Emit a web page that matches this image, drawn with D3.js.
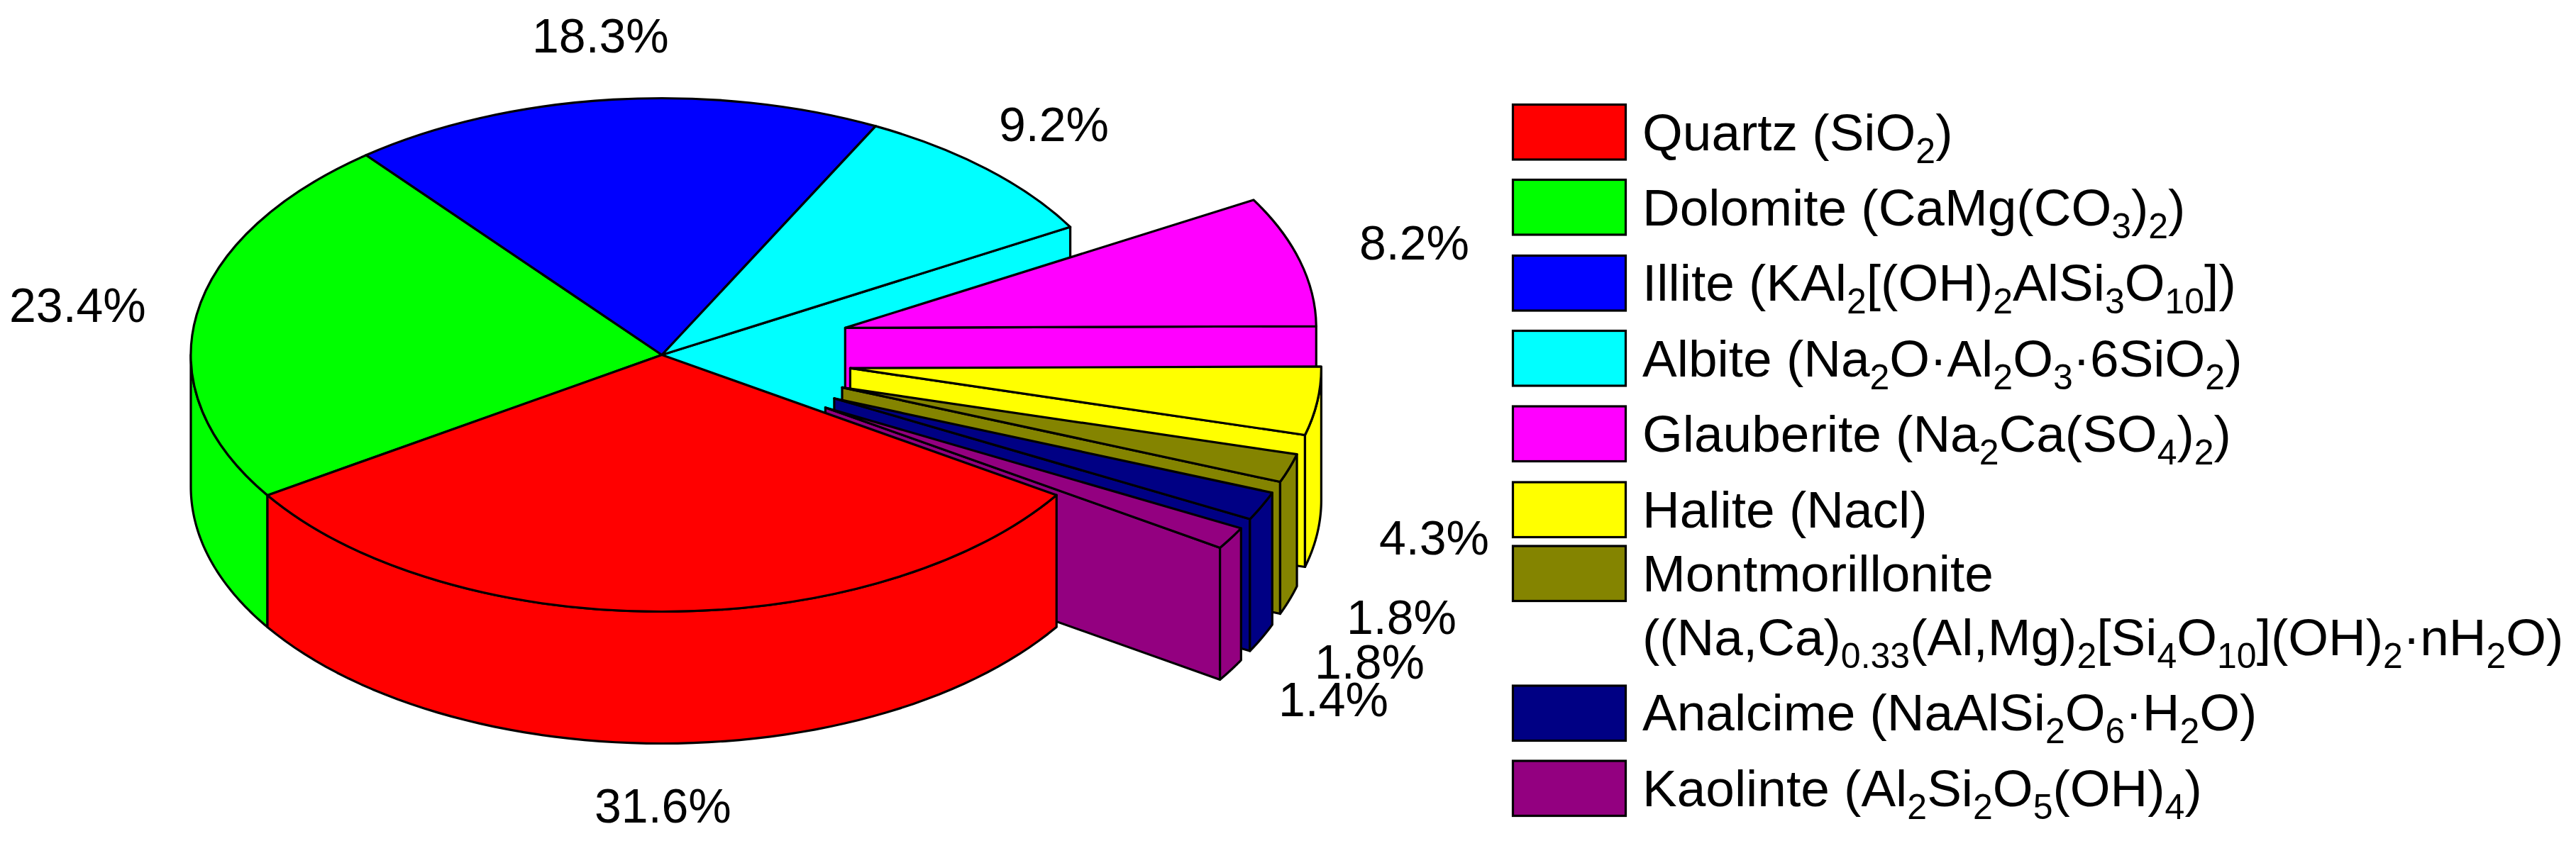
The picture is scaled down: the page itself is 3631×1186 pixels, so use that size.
<!DOCTYPE html>
<html>
<head>
<meta charset="utf-8">
<script src="https://cdn.jsdelivr.net/npm/d3@7"></script>
<style>
  body { margin: 0; background: #fff; }
  text { font-family: "Liberation Sans", Arial, sans-serif; fill: #000; }
</style>
</head>
<body>
<svg id="chart"></svg>
<script>
const minerals = [
  ["Quartz (SiO_2_)"],
  ["Dolomite (CaMg(CO_3_)_2_)"],
  ["Illite (KAl_2_[(OH)_2_AlSi_3_O_10_])"],
  ["Albite (Na_2_O·Al_2_O_3_·6SiO_2_)"],
  ["Glauberite (Na_2_Ca(SO_4_)_2_)"],
  ["Halite (Nacl)"],
  ["Montmorillonite", "((Na,Ca)_0.33_(Al,Mg)_2_[Si_4_O_10_](OH)_2_·nH_2_O)"],
  ["Analcime (NaAlSi_2_O_6_·H_2_O)"],
  ["Kaolinte (Al_2_Si_2_O_5_(OH)_4_)"]
];
const percents = [31.6, 23.4, 18.3, 9.2, 8.2, 4.3, 1.8, 1.8, 1.4];
const explode = [0, 0, 0, 0, 0.403, 0.403, 0.403, 0.403, 0.403];
const colors = ["#ff0000", "#00ff00", "#0000ff", "#00ffff", "#ff00ff", "#ffff00", "#848400", "#000084", "#930080"];

// pie geometry
const width = 3631, height = 1186;
const cx = 933, cy = 500.5, rx = 664, ry = 362, depth = 186;
const firstAngle = 123.1 * Math.PI / 180;
const lw = 3.2;

// percent labels: left edge and baseline
const labelX = [838, 13, 750, 1408, 1916, 1944, 1898, 1853, 1802];
const labelY = [1160, 454, 74, 199, 366, 782, 894, 957, 1010];

// legend rows: swatch top, text baselines
const swatchTop = [147.5, 253.5, 360.5, 466.5, 573, 680, 770, 967, 1073];
const textBase = [[212], [318], [424], [531], [637], [744], [834, 924], [1030], [1137]];

const svg = d3.select("#chart").attr("width", width).attr("height", height)
  .style("display", "block");

const color = d3.scaleOrdinal().domain(d3.range(percents.length)).range(colors);

const slices = d3.pie().sort(null).startAngle(firstAngle).endAngle(firstAngle + 2 * Math.PI)
  .value((d) => d)(percents);

const px = (a) => rx * Math.sin(a);
const py = (a) => -ry * Math.cos(a);
const line = d3.line();
const arc = d3.arc().innerRadius(0).outerRadius(rx);

// every slice: end wall, outer rim, then top, painted back to front with quartz last
const order = [1, 2, 3, 4, 5, 6, 7, 8, 0];
const pie = svg.append("g").attr("stroke", "#000").attr("stroke-width", lw).attr("stroke-linejoin", "round");

order.forEach((i) => {
  const s = slices[i];
  const mid = (s.startAngle + s.endAngle) / 2;
  const ox = cx + explode[i] * px(mid);
  const oy = cy + explode[i] * py(mid);
  const g = pie.append("g").attr("fill", color(i)).attr("transform", `translate(${ox},${oy})`);

  // radial wall at the end angle
  const e = s.endAngle;
  if (Math.sin(e) > 0) {
    g.append("path").attr("d", line([
      [0, 0], [px(e), py(e)], [px(e), py(e) + depth], [0, depth]
    ]) + "Z");
  }

  // outer wall, only the part that faces the viewer
  const shift = s.startAngle >= 2 * Math.PI ? 2 * Math.PI : 0;
  const lo = Math.max(s.startAngle - shift, Math.PI / 2);
  const hi = Math.min(s.endAngle - shift, 3 * Math.PI / 2);
  if (hi > lo) {
    const steps = d3.range(0, 61).map((k) => lo + (hi - lo) * k / 60);
    const top = steps.map((a) => [px(a), py(a)]);
    const bottom = steps.slice().reverse().map((a) => [px(a), py(a) + depth]);
    g.append("path").attr("d", line(top.concat(bottom)) + "Z");
  }

  // top face, circular arc squashed to the ellipse
  g.append("path")
    .attr("transform", `scale(1,${ry / rx})`)
    .attr("vector-effect", "non-scaling-stroke")
    .attr("d", arc(s));
});

svg.append("g").selectAll("text").data(percents).join("text")
  .attr("x", (d, i) => labelX[i])
  .attr("y", (d, i) => labelY[i])
  .attr("font-size", 68)
  .text((d) => d.toFixed(1) + "%");

// legend
const legend = svg.append("g");
legend.selectAll("rect").data(minerals).join("rect")
  .attr("x", 2132.5).attr("y", (d, i) => swatchTop[i])
  .attr("width", 159).attr("height", 77.5)
  .attr("fill", (d, i) => color(i))
  .attr("stroke", "#000").attr("stroke-width", lw);

const fs = 73, subFs = 50, subDrop = 18;
minerals.forEach((rows, i) => {
  rows.forEach((row, r) => {
    const t = legend.append("text").attr("x", 2315).attr("y", textBase[i][r]).attr("font-size", fs);
    // odd chunks of the split are subscripts
    row.split("_").forEach((chunk, k) => {
      const sub = k % 2 === 1;
      const prevSub = k > 0 && (k - 1) % 2 === 1;
      t.append("tspan")
        .attr("font-size", sub ? subFs : fs)
        .attr("dy", sub ? subDrop : prevSub ? -subDrop : 0)
        .text(chunk);
    });
  });
});
</script>
</body>
</html>
